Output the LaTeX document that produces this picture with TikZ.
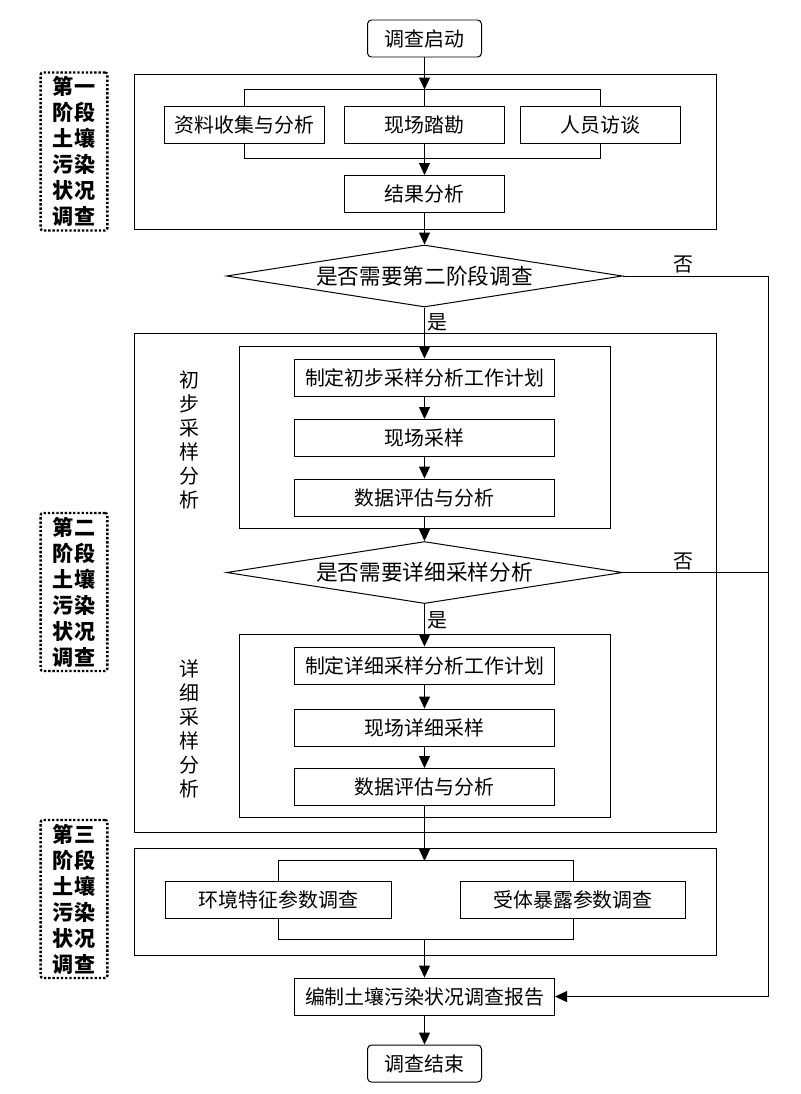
\documentclass[tikz,border=0pt]{standalone}
\usepackage{fontspec}
\setmainfont{Noto Sans CJK SC}
\usepackage{tikz}
\usetikzlibrary{positioning}
\usetikzlibrary{shapes.geometric}
\usetikzlibrary{arrows.meta}

\begin{document}
\begin{tikzpicture}[x=0.03cm,y=-0.03cm,on grid,line width=0.85pt,
    >={Triangle[width=0.33cm,length=0.36cm]},
    box/.style={draw,rectangle,minimum width=4.8cm,minimum height=1.11cm,inner sep=0pt,font=\fontsize{17pt}{20pt}\selectfont},
    wide/.style={box,minimum width=7.8cm},
    param/.style={box,minimum width=6.75cm},
    term/.style={box,rounded corners=0.12cm,minimum width=3.42cm},
    check/.style={draw,diamond,aspect=7,inner sep=0pt,minimum width=11.88cm,minimum height=1.86cm,font=\fontsize{18.5pt}{22pt}\selectfont},
    stage/.style={draw,line width=2pt,dash pattern=on 2pt off 1.6pt,rounded corners=2pt,minimum width=2.0cm,minimum height=4.62cm,align=center,font=\fontsize{18pt}{22.2pt}\selectfont\bfseries},
    vlabel/.style={align=center,font=\fontsize{17pt}{20.5pt}\selectfont},
    tag/.style={font=\fontsize{17pt}{20pt}\selectfont,inner sep=2pt}]
      % \draw[help lines] (0,0) grid (800,1094);
    \useasboundingbox (0,0) rectangle (800,1094);

    % stage frames
    \draw (134,74) rectangle (716,229);
    \draw (134,333) rectangle (716,832);
    \draw (239,346) rectangle (610,528);
    \draw (239,634) rectangle (610,817);
    \draw (134,848) rectangle (716,955);

    \node[stage] (stage_1) at (74,151.5) {第一\\阶段\\土壤\\污染\\状况\\调查};
    \node[stage] (stage_2) at (74,592) {第二\\阶段\\土壤\\污染\\状况\\调查};
    \node[stage] (stage_3) at (74,899) {第三\\阶段\\土壤\\污染\\状况\\调查};

    \node[term]                                   (start) at (424.5,38.5) {调查启动};
    \node[box, below=2.58cm of start]             (survey) {现场踏勘};
    \node[box, left=5.4cm of survey]              (collect) {资料收集与分析};
    \node[box, right=5.28cm of survey]            (interview) {人员访谈};
    \node[box, below=2.085cm of survey]           (result) {结果分析};
    \node[check, below=2.46cm of result]          (need_2) {是否需要第二阶段调查};
    \node[wide, below=3.045cm of need_2]          (plan_1) {制定初步采样分析工作计划};
    \node[wide, below=1.815cm of plan_1]          (sample_1) {现场采样};
    \node[wide, below=1.785cm of sample_1]        (eval_1) {数据评估与分析};
    \node[check, below=2.25cm of eval_1]          (need_d) {是否需要详细采样分析};
    \node[wide, below=2.79cm of need_d]           (plan_2) {制定详细采样分析工作计划};
    \node[wide, below=1.86cm of plan_2]           (sample_2) {现场详细采样};
    \node[wide, below=1.785cm of sample_2]        (eval_2) {数据评估与分析};
    \node[param]                                  (env) at (278.5,899.5) {环境特征参数调查};
    \node[param]                                  (expo) at (573,899.5) {受体暴露参数调查};
    \node[wide, below=6.285cm of eval_2]          (report) {编制土壤污染状况调查报告};
    \node[term, below=2.01cm of report]           (stop) {调查结束};

    \node[vlabel] (tag_1) at (189,440) {初\\步\\采\\样\\分\\析};
    \node[vlabel] (tag_2) at (189,729) {详\\细\\采\\样\\分\\析};

    % forks and joins
    \path (survey.north) ++(0,-16) coordinate (fork_1);
    \coordinate (fork_3) at (424.5,861);
    \coordinate (join_3) at (424.5,939);
    \draw (collect.north) -- ++(0,-16) -| (interview.north);
    \draw (collect.south) -- ++(0,15) -| (interview.south);
    \draw (env.north) -- ++(0,-20) -| (expo.north);
    \draw (env.south) -- ++(0,21) -| (expo.south);

    \draw[->] (start) -- (fork_1);
    \draw (fork_1) -- (survey);
    \draw[->] (survey) -- (result);
    \draw[->] (result) -- (need_2);
    \draw[->] (need_2) -- node[tag, right, pos=0.3] {是} (plan_1);
    \draw[->] (plan_1) -- (sample_1);
    \draw[->] (sample_1) -- (eval_1);
    \draw[->] (eval_1) -- (need_d);
    \draw[->] (need_d) -- node[tag, right, pos=0.39] {是} (plan_2);
    \draw[->] (plan_2) -- (sample_2);
    \draw[->] (sample_2) -- (eval_2);
    \draw[->] (eval_2) -- (fork_3);
    \draw[->] (join_3) -- (report);
    \draw[->] (report) -- (stop);

    % no branches
    \draw[->] (need_2.east) -- node[tag, above, pos=0.42] {否} ++(145,0) coordinate (loop) |- (report.east);
    \draw (need_d.east) -- node[tag, above, pos=0.42] {否} (need_d.east -| loop);
  \end{tikzpicture}
\end{document}
